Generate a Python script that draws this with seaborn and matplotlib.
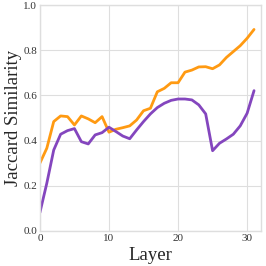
import numpy as np
import pandas as pd
import seaborn as sns
import matplotlib
matplotlib.use("Agg")
import matplotlib.pyplot as plt

layers = list(range(32))
orange_vals = [0.30, 0.366, 0.484, 0.509, 0.506, 0.469, 0.509, 0.496, 0.479, 0.506,
               0.437, 0.45, 0.457, 0.465, 0.491, 0.532, 0.543, 0.616, 0.631, 0.656,
               0.656, 0.703, 0.712, 0.726, 0.727, 0.718, 0.735, 0.768, 0.794, 0.82,
               0.853, 0.892]
purple_vals = [0.081, 0.211, 0.358, 0.428, 0.444, 0.453, 0.395, 0.385, 0.425, 0.435,
               0.459, 0.44, 0.42, 0.408, 0.447, 0.484, 0.518, 0.546, 0.565, 0.578,
               0.584, 0.584, 0.58, 0.558, 0.518, 0.355, 0.388, 0.407, 0.428, 0.465,
               0.521, 0.621]
series_names = ["A", "B"]
colors = ["#FF9A12", "#8446BE"]

df = pd.DataFrame({
    "Layer": layers * 2,
    "Jaccard Similarity": orange_vals + purple_vals,
    "series": [series_names[0]] * 32 + [series_names[1]] * 32,
})

sns.set_style("whitegrid", {"grid.color": "#dedede", "axes.edgecolor": "#dedede"})
plt.rcParams["font.family"] = ["Liberation Serif", "DejaVu Serif"]

fig = plt.figure(figsize=(2.66, 2.66), dpi=100)
ax = fig.add_axes([0.150, 0.132, 0.831, 0.849])
sns.lineplot(data=df, x="Layer", y="Jaccard Similarity", hue="series",
             palette=colors, linewidth=2.0, legend=False, ax=ax)
ax.set_xlim(0, 32)
ax.set_ylim(0, 1.0)
ax.set_xticks([0, 10, 20, 30])
ax.set_yticks([0.0, 0.2, 0.4, 0.6, 0.8, 1.0])
ax.set_yticklabels(["0.0", "0.2", "0.4", "0.6", "0.8", "1.0"])
ax.tick_params(axis="both", labelsize=8, length=0, pad=2, colors="#333333")
ax.set_xlabel("Layer", fontsize=13.5, labelpad=3)
ax.set_ylabel("Jaccard Similarity", fontsize=13.5, labelpad=1)
for s in ax.spines.values():
    s.set_color("#dedede")
    s.set_linewidth(1.0)
fig.savefig("out.png", dpi=100)
